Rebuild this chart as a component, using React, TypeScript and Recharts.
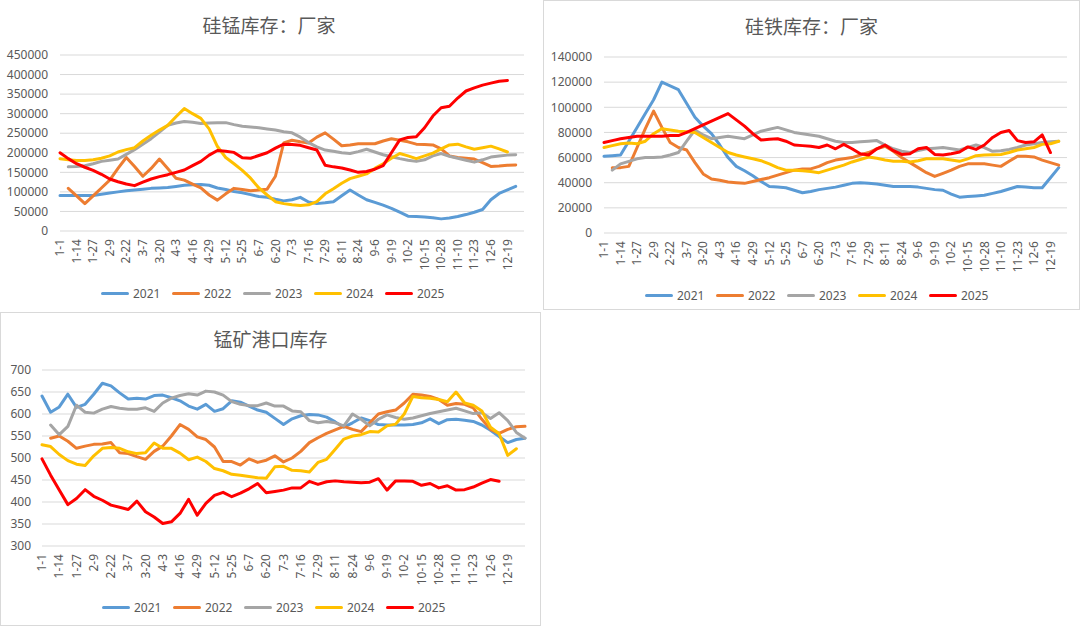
import { LineChart, Line, XAxis, YAxis, CartesianGrid } from "recharts";

// weekly categories, every other one is labelled
const dates = [
  "1-1", "1-7", "1-14", "1-20", "1-27", "2-2", "2-9", "2-15", "2-22", "2-28",
  "3-7", "3-13", "3-20", "3-27", "4-3", "4-9", "4-16", "4-22", "4-29", "5-5",
  "5-12", "5-18", "5-25", "5-31", "6-7", "6-13", "6-20", "6-26", "7-3", "7-9",
  "7-16", "7-22", "7-29", "8-4", "8-11", "8-17", "8-24", "8-30", "9-6", "9-12",
  "9-19", "9-25", "10-2", "10-8", "10-15", "10-21", "10-28", "11-3", "11-10", "11-16",
  "11-23", "11-29", "12-6", "12-12", "12-19", "12-25", "12-31",
];
const shownDates = [
  "1-1", "1-14", "1-27", "2-9", "2-22", "3-7", "3-20", "4-3", "4-16", "4-29",
  "5-12", "5-25", "6-7", "6-20", "7-3", "7-16", "7-29", "8-11", "8-24", "9-6",
  "9-19", "10-2", "10-15", "10-28", "11-10", "11-23", "12-6", "12-19",
];

const years = ["2021", "2022", "2023", "2024", "2025"];
const colors = ["#5B9BD5", "#ED7D31", "#A5A5A5", "#FFC000", "#FF0000"];

// 硅锰库存：厂家
const smn2021 = [91000, 91000, 91000, 91000, 91000, 94000, 97000, 100000, 103000, 105000, 107000, 109000, 110000, 111000, 114000, 117000, 118000, 119000, 117000, 110000, 106000, 101000, 98000, 93000, 88000, 86000, 81000, 77000, 80000, 86000, 74000, 70000, 72000, 75000, 90000, 105000, 92000, 80000, 73000, 66000, 58000, 48000, 38000, 37000, 36000, 34000, 31000, 33000, 37000, 42000, 48000, 55000, 80000, 96000, 105000, 114000];
const smn2022 = [null, 109000, 90000, 70000, 90000, 110000, 130000, 160000, 188000, 165000, 140000, 160000, 184000, 160000, 135000, 130000, 120000, 110000, 92000, 79000, 95000, 109000, 106000, 103000, 105000, 107000, 140000, 225000, 232000, 228000, 225000, 240000, 251000, 235000, 218000, 220000, 223000, 223000, 223000, 230000, 236000, 232000, 228000, 222000, 221000, 220000, 210000, 192000, 188000, 186000, 184000, 175000, 165000, 166000, 168000, 169000];
const smn2023 = [null, 164000, 165000, 167000, 172000, 178000, 181000, 184000, 196000, 208000, 222000, 236000, 253000, 270000, 276000, 280000, 278000, 275000, 276000, 277000, 277000, 272000, 268000, 266000, 264000, 261000, 258000, 254000, 251000, 240000, 226000, 215000, 207000, 204000, 200000, 198000, 203000, 209000, 202000, 195000, 190000, 185000, 181000, 178000, 182000, 192000, 198000, 191000, 186000, 181000, 176000, 182000, 189000, 192000, 194000, 195000];
const smn2024 = [185000, 182000, 180000, 180000, 182000, 186000, 192000, 202000, 208000, 213000, 230000, 245000, 258000, 270000, 292000, 313000, 300000, 288000, 261000, 216000, 188000, 172000, 155000, 135000, 110000, 92000, 75000, 70000, 67000, 65000, 67000, 75000, 95000, 108000, 122000, 134000, 140000, 146000, 160000, 172000, 186000, 198000, 192000, 185000, 192000, 199000, 210000, 220000, 222000, 215000, 209000, 213000, 217000, 210000, 202000];
const smn2025 = [200000, 185000, 172000, 163000, 155000, 145000, 133000, 126000, 120000, 116000, 125000, 133000, 139000, 144000, 150000, 156000, 167000, 178000, 194000, 206000, 204000, 201000, 187000, 186000, 193000, 200000, 212000, 222000, 221000, 219000, 213000, 207000, 168000, 164000, 161000, 156000, 150000, 152000, 158000, 167000, 200000, 233000, 239000, 241000, 264000, 294000, 315000, 319000, 340000, 358000, 366000, 373000, 378000, 383000, 385000];

// 硅铁库存：厂家
const sif2021 = [61000, 61500, 62000, 73000, 84000, 95000, 106000, 120000, 117000, 114000, 103000, 92000, 85000, 79000, 70000, 60000, 53000, 49500, 45500, 41000, 37000, 36500, 36000, 34000, 32000, 33000, 34500, 35500, 36500, 38000, 39500, 40000, 39500, 39000, 38000, 37000, 37000, 37000, 36500, 35500, 34500, 34000, 31000, 28500, 29000, 29500, 30000, 31500, 33000, 35000, 37000, 36500, 36000, 36000, 44000, 52000];
const sif2022 = [null, 52000, 52000, 53000, 68000, 83000, 97000, 84000, 72000, 68000, 66000, 56000, 47000, 43000, 42000, 40500, 40000, 39500, 41000, 42500, 44000, 46000, 48000, 50000, 51000, 51000, 53000, 56000, 58000, 59000, 60000, 62000, 64000, 67000, 69000, 65000, 60000, 56000, 52000, 48000, 45000, 47500, 50000, 53000, 55000, 55000, 55000, 54000, 53000, 57000, 61000, 61000, 60500, 58000, 56000, 54000];
const sif2023 = [null, 50000, 55000, 57000, 59000, 60000, 60000, 60500, 62000, 64000, 73000, 82000, 78000, 75000, 76000, 77000, 76000, 75000, 78000, 81000, 82500, 84000, 82000, 80000, 79000, 78000, 77000, 75000, 73000, 72000, 72000, 72500, 73000, 73500, 70000, 67000, 65000, 64000, 65500, 67000, 67500, 68000, 67000, 66000, 68000, 70000, 68000, 65000, 65500, 66500, 68000, 70000, 71000, 72000, 72500, 73000];
const sif2024 = [68000, 69500, 71000, 71500, 71000, 73000, 79000, 83000, 82000, 81000, 80500, 80000, 76000, 72000, 68000, 64000, 62000, 60500, 59000, 57500, 55000, 52000, 50000, 50000, 49500, 49000, 48000, 50000, 52000, 54000, 56500, 58500, 60500, 59500, 58000, 57000, 57000, 56500, 57500, 59000, 59000, 59000, 58000, 57000, 59000, 61500, 62000, 62300, 62500, 64000, 66000, 67000, 68000, 70500, 71000, 73000];
const sif2025 = [72000, 73500, 75000, 76000, 77000, 77000, 77000, 77000, 77500, 77500, 80000, 83000, 86000, 89000, 92000, 95000, 90000, 85000, 79000, 74000, 74500, 75000, 73000, 70000, 69500, 69000, 68000, 70000, 67000, 70500, 67000, 63000, 62000, 67000, 70000, 65500, 62500, 63000, 67000, 68000, 62500, 62000, 63000, 64500, 68500, 66500, 70000, 76000, 80000, 81500, 73500, 72000, 72500, 78000, 64000];

// 锰矿港口库存
const mn2021 = [641, 604, 616, 645, 615, 622, 645, 670, 664, 648, 634, 636, 634, 642, 643, 637, 630, 618, 611, 622, 606, 612, 630, 627, 618, 609, 604, 590, 576, 589, 596, 599, 598, 593, 582, 570, 580, 591, 585, 576, 575, 575, 575, 576, 580, 589, 578, 587, 588, 586, 583, 575, 563, 549, 535, 542, 545];
const mn2022 = [null, 545, 550, 538, 522, 527, 531, 532, 535, 512, 510, 503, 497, 515, 527, 550, 576, 565, 548, 542, 525, 492, 492, 484, 498, 490, 495, 505, 491, 500, 515, 535, 546, 556, 564, 572, 565, 560, 580, 600, 605, 609, 625, 645, 643, 640, 633, 620, 624, 622, 614, 588, 565, 556, 565, 571, 572];
const mn2023 = [null, 575, 553, 572, 620, 604, 602, 611, 617, 613, 611, 611, 614, 606, 625, 636, 642, 646, 643, 652, 650, 643, 628, 622, 619, 619, 625, 618, 618, 607, 605, 585, 580, 583, 580, 573, 600, 588, 573, 588, 598, 592, 588, 591, 596, 601, 605, 609, 613, 607, 601, 603, 590, 603, 585, 558, 545];
const mn2024 = [530, 526, 508, 494, 486, 483, 505, 522, 524, 522, 514, 510, 512, 534, 522, 522, 511, 496, 502, 492, 476, 471, 463, 461, 458, 455, 454, 480, 481, 472, 471, 468, 490, 497, 520, 543, 550, 553, 560, 559, 573, 577, 600, 640, 637, 636, 633, 628, 650, 625, 620, 607, 570, 555, 506, 521];
const mn2025 = [498, 461, 427, 394, 408, 428, 413, 404, 393, 388, 383, 402, 378, 366, 351, 355, 374, 406, 370, 397, 415, 422, 412, 420, 430, 442, 421, 424, 427, 432, 432, 447, 440, 446, 448, 446, 445, 444, 445, 453, 427, 448, 448, 447, 438, 442, 432, 437, 427, 428, 434, 443, 451, 447];

const smnTicks = [0, 50000, 100000, 150000, 200000, 250000, 300000, 350000, 400000, 450000];
const sifTicks = [0, 20000, 40000, 60000, 80000, 100000, 120000, 140000];
const mnTicks = [300, 350, 400, 450, 500, 550, 600, 650, 700];

type Val = number | null;

function buildRows(series: Val[][]) {
  return dates.map((d, i) => {
    const row: Record<string, string | number | null> = { date: d };
    years.forEach((y, k) => {
      row[y] = series[k][i] ?? null;
    });
    return row;
  });
}

const textColor = "#595959";
const gridColor = "#D9D9D9";

function DateTick(props: any) {
  const { x, y, payload } = props;
  if (!shownDates.includes(payload.value)) return <g />;
  return (
    <text
      x={x}
      y={y}
      transform={`rotate(-90 ${x} ${y})`}
      textAnchor="end"
      dy="0.35em"
      fill={textColor}
      fontSize={12}
      fontFamily="'Noto Sans', sans-serif"
    >
      {payload.value}
    </text>
  );
}

type PanelProps = {
  title: string;
  rows: Record<string, string | number | null>[];
  ticks: number[];
  left: number;
  top: number;
  width: number;
  height: number;
  margin: { top: number; right: number; bottom: number; left: number };
  yWidth: number;
  yTickMargin: number;
  titleY: number;
  legendY: number;
  border: boolean;
};

function Panel(p: PanelProps) {
  return (
    <div
      style={{
        position: "absolute",
        left: p.left,
        top: p.top,
        width: p.width,
        height: p.height,
        boxSizing: "border-box",
        border: p.border ? `1px solid ${gridColor}` : "none",
        background: "#fff",
      }}
    >
      <div
        style={{
          position: "absolute",
          left: 0,
          width: p.width - 2,
          top: p.titleY - 14,
          height: 28,
          lineHeight: "28px",
          textAlign: "center",
          fontSize: 19,
          color: textColor,
          fontFamily: "'Noto Sans CJK SC', sans-serif",
        }}
      >
        {p.title}
      </div>
      <div style={{ position: "absolute", left: -1, top: -1 }}>
        <LineChart width={p.width} height={p.height} data={p.rows} margin={p.margin}>
          <CartesianGrid vertical={false} stroke={gridColor} />
          <XAxis
            dataKey="date"
            interval={0}
            tickLine={false}
            axisLine={false}
            height={40}
            tick={DateTick}
          />
          <YAxis
            type="number"
            domain={[p.ticks[0], p.ticks[p.ticks.length - 1]]}
            ticks={p.ticks}
            interval={0}
            width={p.yWidth}
            tickLine={false}
            axisLine={false}
            tickMargin={p.yTickMargin}
            tick={{ fill: textColor, fontSize: 12, fontFamily: "'Noto Sans', sans-serif" }}
          />
          {years.map((y, k) => (
            <Line
              key={y}
              type="linear"
              dataKey={y}
              stroke={colors[k]}
              strokeWidth={3}
              strokeLinejoin="round"
              strokeLinecap="round"
              dot={false}
              activeDot={false}
              isAnimationActive={false}
            />
          ))}
        </LineChart>
      </div>
      {years.map((y, k) => (
        <div
          key={y}
          style={{
            position: "absolute",
            left: 101 + k * 71,
            top: p.legendY - 8,
            height: 16,
            display: "flex",
            alignItems: "center",
            fontSize: 12,
            color: textColor,
            fontFamily: "'Noto Sans', sans-serif",
          }}
        >
          <span
            style={{
              display: "inline-block",
              width: 28,
              height: 3,
              borderRadius: 2,
              background: colors[k],
              marginRight: 4,
            }}
          />
          {y}
        </div>
      ))}
    </div>
  );
}

export default function App() {
  return (
    <div
      style={{
        position: "absolute",
        left: 0,
        top: 0,
        width: 1080,
        height: 626,
        background: "#fff",
        overflow: "hidden",
      }}
    >
      <Panel
        title="硅锰库存：厂家"
        rows={buildRows([smn2021, smn2022, smn2023, smn2024, smn2025])}
        ticks={smnTicks}
        left={0}
        top={0}
        width={540}
        height={310}
        margin={{ top: 56, right: 15, bottom: 38, left: 1 }}
        yWidth={60}
        yTickMargin={6}
        titleY={25}
        legendY={293}
        border={false}
      />
      <Panel
        title="硅铁库存：厂家"
        rows={buildRows([sif2021, sif2022, sif2023, sif2024, sif2025])}
        ticks={sifTicks}
        left={543}
        top={0}
        width={537}
        height={310}
        margin={{ top: 57, right: 13, bottom: 37, left: 1 }}
        yWidth={60}
        yTickMargin={6}
        titleY={25}
        legendY={294}
        border={true}
      />
      <Panel
        title="锰矿港口库存"
        rows={buildRows([mn2021, mn2022, mn2023, mn2024, mn2025])}
        ticks={mnTicks}
        left={0}
        top={312}
        width={541}
        height={314}
        margin={{ top: 58, right: 16, bottom: 40, left: 1 }}
        yWidth={41}
        yTickMargin={5}
        titleY={26}
        legendY={294}
        border={true}
      />
    </div>
  );
}
